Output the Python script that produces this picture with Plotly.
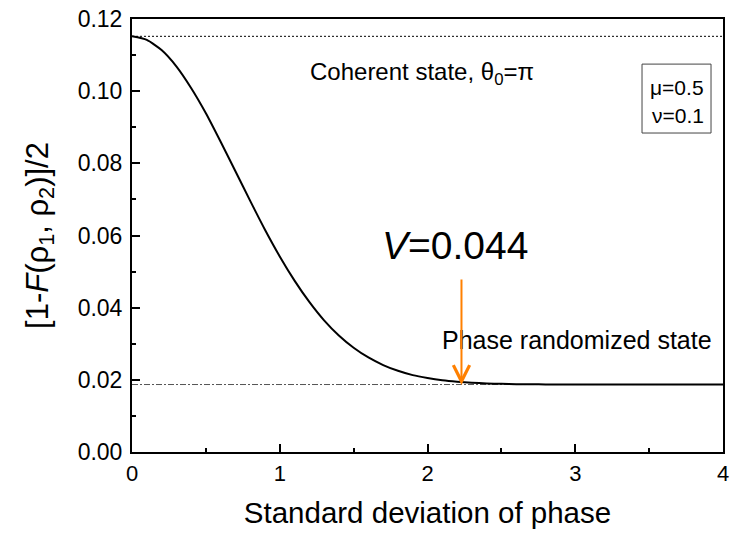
import plotly.graph_objects as go

# Data
sigma = [0.0, 0.1, 0.2, 0.3, 0.4, 0.5, 0.6, 0.7, 0.8, 0.9, 1.0, 1.1, 1.2, 1.3, 1.4,
         1.5, 1.6, 1.7, 1.8, 1.9, 2.0, 2.1, 2.2, 2.3, 2.4, 2.5, 2.6, 2.7, 2.8, 3.0,
         3.2, 3.4, 3.6, 3.8, 4.0]
trace_dist = [0.1152, 0.1142, 0.1114, 0.1069, 0.1009, 0.0939, 0.0860, 0.0778, 0.0696,
              0.0616, 0.0542, 0.0475, 0.0416, 0.0365, 0.0323, 0.0289, 0.0262, 0.0241,
              0.0225, 0.0213, 0.0205, 0.0199, 0.0195, 0.0192, 0.0190, 0.0189, 0.0188,
              0.0188, 0.0187, 0.0187, 0.0187, 0.0187, 0.0187, 0.0187, 0.0187]
coherent_level = 0.1152
randomized_level = 0.0187
x_range = [0, 4]
y_range = [0, 0.12]
arrow_x = 2.23
arrow_tip_y = 0.0186
arrow_tail_y = 0.0482

FONT = "Arial, Liberation Sans, sans-serif"

fig = go.Figure()

fig.add_trace(go.Scatter(x=x_range, y=[coherent_level, coherent_level], mode="lines",
                         line=dict(color="black", width=1, dash="2px,2px"),
                         showlegend=False, hoverinfo="skip"))
fig.add_trace(go.Scatter(x=x_range, y=[randomized_level, randomized_level], mode="lines",
                         line=dict(color="#555555", width=1, dash="6px,2px,2px,2px"),
                         showlegend=False, hoverinfo="skip"))
fig.add_trace(go.Scatter(x=sigma, y=trace_dist, mode="lines",
                         line=dict(color="black", width=2, shape="spline", smoothing=0.6),
                         showlegend=False))

# legend-like box
fig.add_shape(type="rect", xref="x", yref="y", x0=3.452, x1=3.919, y0=0.0884, y1=0.1075,
              line=dict(color="#444444", width=1), fillcolor="rgba(0,0,0,0)")

annotations = [
    dict(x=1.19, y=0.105, text="Coherent state, θ<sub>0</sub>=π", xanchor="left", size=24),
    dict(x=3.885, y=0.1010, text="μ=0.5", xanchor="right", size=21),
    dict(x=3.885, y=0.0932, text="ν=0.1", xanchor="right", size=21),
    dict(x=1.68, y=0.0573, text="<i>V</i>=0.044", xanchor="left", size=39),
    dict(x=2.085, y=0.031, text="Phase randomized state", xanchor="left", size=25),
]
for a in annotations:
    fig.add_annotation(xref="x", yref="y", showarrow=False, yanchor="middle",
                       x=a["x"], y=a["y"], text=a["text"], xanchor=a["xanchor"],
                       font=dict(family=FONT, color="black", size=a["size"]))

fig.add_annotation(x=arrow_x, y=arrow_tip_y, ax=arrow_x, ay=arrow_tail_y,
                   xref="x", yref="y", axref="x", ayref="y", text="",
                   showarrow=True, arrowhead=5, arrowsize=1.6, arrowwidth=2,
                   arrowcolor="#FF8000", standoff=0)

fig.update_xaxes(range=x_range, dtick=1, tick0=0, ticks="inside", ticklen=8, tickwidth=1.5,
                 tickcolor="black", showline=True, linecolor="black", linewidth=2,
                 mirror=True, showgrid=False, zeroline=False, automargin=False,
                 ticklabelstandoff=1, ticklabeloverflow="allow",
                 minor=dict(ticks="inside", dtick=0.5, ticklen=4, tickwidth=1.5, tickcolor="black"),
                 tickfont=dict(family=FONT, size=22, color="black"),
                 title=dict(text="Standard deviation of phase",
                            font=dict(family=FONT, size=29.5, color="black"), standoff=17))
fig.update_yaxes(range=y_range, dtick=0.02, tick0=0, tickformat=".2f", ticks="inside",
                 ticklen=8, tickwidth=1.5, tickcolor="black", showline=True,
                 linecolor="black", linewidth=2, mirror=True, showgrid=False, zeroline=False,
                 automargin=False, ticklabelstandoff=3, ticklabeloverflow="allow",
                 minor=dict(ticks="inside", dtick=0.01, ticklen=4, tickwidth=1.5, tickcolor="black"),
                 tickfont=dict(family=FONT, size=23, color="black"),
                 title=dict(text="[1-<i>F</i>(ρ<sub>1</sub>, ρ<sub>2</sub>)]/2",
                            font=dict(family=FONT, size=31, color="black"), standoff=20))

fig.update_layout(width=733, height=534, margin=dict(l=132, r=10, t=19, b=82),
                  plot_bgcolor="white", paper_bgcolor="white",
                  font=dict(family=FONT, color="black"))

fig.write_html("out.html", config={"displayModeBar": False},
               post_script="document.body.style.margin='0';document.body.style.overflow='hidden';")
